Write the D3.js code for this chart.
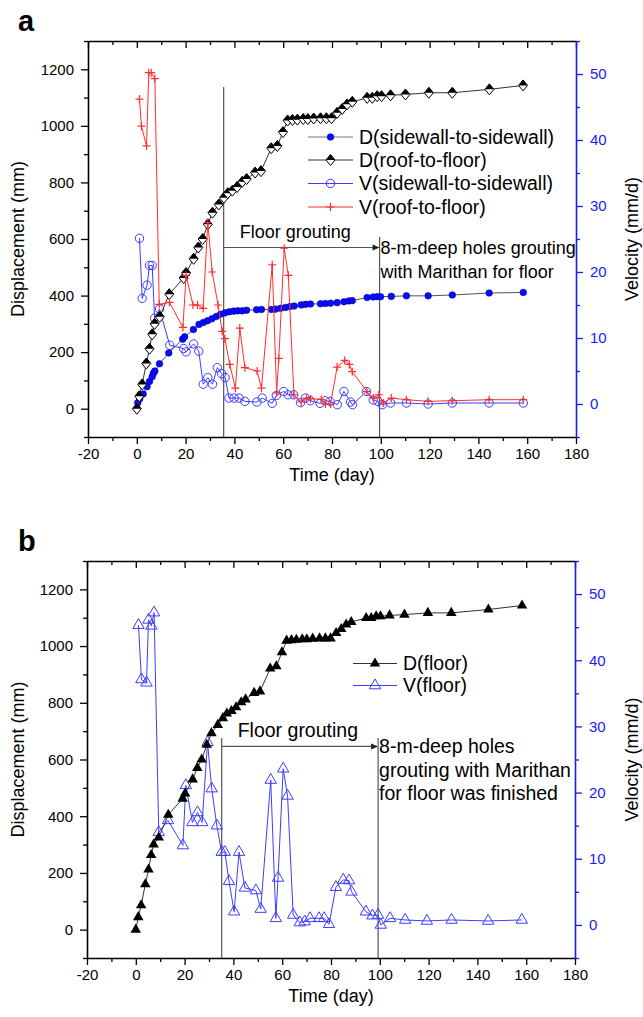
<!DOCTYPE html>
<html>
<head>
<meta charset="utf-8">
<script src="https://cdn.jsdelivr.net/npm/d3@7"></script>
<style>
  body { margin: 0; background: #fff; }
  svg text { font-family: "Liberation Sans", Arial, sans-serif; fill: #000; }
</style>
</head>
<body>
<div id="chart"></div>
<script>
// ---- data ----
// D(roof-to-floor) / D(floor), mm
const tDRoof = [0,1,2.2,3.9,5.2,6.3,7.3,9.4,13.3,19.2,20.2,23.3,25.2,27,29.1,31,33.6,35.7,37.3,39.2,41.1,43.2,45,48.5,50.9,55.1,57.6,59.9,61.8,63.8,65.8,68.2,70.1,72.5,75.3,77.7,79.8,82.1,84.2,86.2,88.3,94.4,96.5,98.5,100.3,104,110.1,119.7,129.3,144.5,158.3];
const dRoof = [0,44,86,160,212,263,300,325,405,462,480,530,570,600,652,693,722,746,762,771,784,802,812,835,840,921,929,978,1019,1021,1022,1024,1024,1026,1027,1027,1027,1046,1060,1076,1085,1099,1099,1105,1105,1108,1111,1117,1117,1129,1143];

// D(sidewall-to-sidewall), mm
const tDSide = [0.4,1.2,2.6,4.2,5.2,6.3,6.8,7.4,9.3,13.1,18.8,19.6,23.2,25.5,27.3,29,30.8,32.6,34.3,36.2,38,39.7,41.4,43.2,45,49.1,51.1,55.1,56.8,58.9,60.9,62.7,64.5,67.4,69.2,71.2,75.3,77.3,79.4,82.1,84.9,86.9,88.3,94.4,96.9,98.5,99.9,104.3,110.5,119.4,129.3,144.4,158.4];
const dSide = [21,35,52,78,96,113,125,133,159,197,246,254,280,298,305,311,318,326,334,339,343,345,346,346,348,350,351,351,352,355,358,361,363,367,369,370,371,372,373,375,378,381,382,393,395,396,396,397,399,399,402,409,411];

// V(sidewall-to-sidewall), mm/d
const tVSide = [1.1,2.2,4.2,5.2,6.3,7.3,9.3,13.5,19.2,20.2,23.3,25.4,27.2,29.1,31,33,34.8,36.2,37.8,39.9,41.9,44.3,49.2,51.4,55.5,57.2,60.2,62,64.3,67.1,69.1,71.1,75.1,77.2,79.2,82.2,84.9,87.6,88.4,94.1,96.9,98.8,100.6,104,110.5,119.4,129.3,144.4,158.4];
const vSide = [25.1,16,18,21,21,13,14.4,8.9,8.4,7.9,9.1,8,3,4,3,5.5,4.6,4,0.9,0.9,0.9,0.4,0.3,0.9,0.1,1.3,1.9,1.4,1.4,0.2,0.9,0.5,0.1,0.5,0.4,-0.1,1.9,0.3,-0.1,1.9,0.6,0.4,-0.1,0.15,0.15,0,0.15,0.15,0.15];

// V(roof-to-floor), mm/d
const tVRoof = [1.1,1.9,4,4.9,5.9,7.4,9.2,13.4,18.9,20.2,23,24.9,27.2,29.1,30.9,33.3,35,36.1,38.1,40.4,42.2,44.3,49.3,51.1,55.5,57.3,58.2,60.4,62.1,64.4,67.4,69.6,71.2,75.6,77.3,79.4,82.1,85.2,87.1,88.3,94.3,96.9,99.2,101,104.3,110.5,119.4,129.3,144.4,158.4];
const vRoof = [46.2,42.1,39.1,50.2,50.2,49.3,15.1,15.4,11.6,19.5,15,15,14.5,27.5,20,15,11,9.9,6,2.4,11.5,5.5,5,2.4,21.1,1.7,6.9,23.6,19.5,1.4,0.3,0.9,0.8,0.7,0,0,5.6,6.6,6,4.9,1.9,0.9,1.4,0.15,0.9,0.65,0.4,0.5,0.65,0.65];

// V(floor), mm/d  (panel b)
const tVFloor = [1.1,2.3,4.4,5.2,6.4,7.5,9.4,13.2,19.3,20.5,23.2,25.3,27.2,29.4,31.1,33.2,35.2,36.5,38.2,40.3,42.3,44.7,49.2,51.2,55.3,57.4,58.3,60.4,62.2,64.5,67.2,69.2,71.4,75.1,77.2,79.2,82,85,87.4,88.4,94.3,97,99.3,100.4,104.2,110.4,119.3,129.4,144.4,158.2];
const vFloor = [45.3,37.1,36.6,46.1,45.2,47.2,14,15.8,12,21.1,15.5,17,15.5,27.6,20.6,15,11,11,6.6,2,11,5.6,5.2,2.4,21.9,1,7.1,23.6,19.5,1.5,0.35,0.5,1,1,1,0.1,5.7,6.8,6.7,5,2,1.4,1.5,0,1,0.75,0.6,0.75,0.6,0.75];

// axis ticks
const xMajor = d3.range(-20, 181, 20);
const xMinor = d3.range(-10, 180, 20);
const yMajor = d3.range(0, 1201, 200);
const yMinor = d3.range(-100, 1301, 200);
const vMajor = d3.range(0, 51, 10);
const vMinor = d3.range(-5, 56, 10);

const legendA = ["D(sidewall-to-sidewall)", "D(roof-to-floor)", "V(sidewall-to-sidewall)", "V(roof-to-floor)"];
const legendB = ["D(floor)", "V(floor)"];

const BLUE = "#1a1aff";
const VBLUE = "#3d3dff";
const RED = "#ff2d2d";

const svg = d3.select("#chart").append("svg")
    .attr("width", 643)
    .attr("height", 1017);

const zip = (ts, vs) => ts.map((t, i) => ({ t: t, v: vs[i] }));
const plain = d => String(d);

function makePanel(box, letter) {
    const x = d3.scaleLinear().domain([-20, 180]).range([box.left, box.right]);
    const yL = d3.scaleLinear().domain([-100, 1300]).range([box.bottom, box.top]);
    const yR = d3.scaleLinear().domain([-5, 55]).range([box.bottom, box.top]);
    const g = svg.append("g");

    const style = (sel, color) => {
        sel.selectAll(".domain").attr("stroke", color).attr("stroke-width", 1.6);
        sel.selectAll(".tick line").attr("stroke", color).attr("stroke-width", 1.3);
        sel.selectAll(".tick text").style("font-size", "15px").style("fill", color)
            .style("font-family", "'Liberation Sans', Arial, sans-serif");
    };

    // bottom
    g.append("g").attr("transform", `translate(0,${box.bottom})`)
        .call(d3.axisBottom(x).tickValues(xMinor).tickSize(4).tickSizeOuter(0).tickFormat(""))
        .call(s => s.select(".domain").remove()).call(s => style(s, "#000"));
    g.append("g").attr("transform", `translate(0,${box.bottom})`)
        .call(d3.axisBottom(x).tickValues(xMajor).tickSize(7).tickSizeOuter(0).tickPadding(4).tickFormat(plain))
        .call(s => style(s, "#000"));
    // top (ticks inward)
    g.append("g").attr("transform", `translate(0,${box.top})`)
        .call(d3.axisTop(x).tickValues(xMinor).tickSize(-4).tickSizeOuter(0).tickFormat(""))
        .call(s => s.select(".domain").remove()).call(s => style(s, "#000"));
    g.append("g").attr("transform", `translate(0,${box.top})`)
        .call(d3.axisTop(x).tickValues(xMajor).tickSize(-7).tickSizeOuter(0).tickFormat(""))
        .call(s => style(s, "#000"));
    // left
    g.append("g").attr("transform", `translate(${box.left},0)`)
        .call(d3.axisLeft(yL).tickValues(yMinor).tickSize(4).tickSizeOuter(0).tickFormat(""))
        .call(s => s.select(".domain").remove()).call(s => style(s, "#000"));
    g.append("g").attr("transform", `translate(${box.left},0)`)
        .call(d3.axisLeft(yL).tickValues(yMajor).tickSize(7).tickSizeOuter(0).tickPadding(7).tickFormat(plain))
        .call(s => style(s, "#000"));
    // right (velocity, blue)
    g.append("g").attr("transform", `translate(${box.right},0)`)
        .call(d3.axisRight(yR).tickValues(vMinor).tickSize(4).tickSizeOuter(0).tickFormat(""))
        .call(s => s.select(".domain").remove()).call(s => style(s, BLUE));
    g.append("g").attr("transform", `translate(${box.right},0)`)
        .call(d3.axisRight(yR).tickValues(vMajor).tickSize(7).tickSizeOuter(0).tickPadding(7).tickFormat(plain))
        .call(s => style(s, BLUE));

    // axis titles
    const midY = (box.top + box.bottom) / 2;
    g.append("text").attr("transform", `translate(24,${midY}) rotate(-90)`)
        .attr("text-anchor", "middle").style("font-size", "18px").text("Displacement (mm)");
    g.append("text").attr("transform", `translate(638,${midY}) rotate(-90)`)
        .attr("text-anchor", "middle").style("font-size", "18px").text("Velocity (mm/d)");
    g.append("text").attr("x", (box.left + box.right) / 2).attr("y", box.bottom + 44)
        .attr("text-anchor", "middle").style("font-size", "18px").text("Time (day)");
    g.append("text").attr("x", 18).attr("y", box.top - 10)
        .style("font-size", "29px").style("font-weight", "bold").text(letter);

    return { x, yL, yR, g };
}

// marker helpers
function plus(sel, color) {
    sel.append("path").attr("d", "M-4,0H4M0,-4V4").attr("stroke", color).attr("stroke-width", 1.2).attr("fill", "none");
}
function halfDiamond(sel) {
    sel.append("path").attr("d", "M0,-5.5L4.5,0L0,5.5L-4.5,0Z").attr("fill", "#fff").attr("stroke", "#000").attr("stroke-width", 1);
    sel.append("path").attr("d", "M0,-5.5L4.5,0L-4.5,0Z").attr("fill", "#000");
}
function dot(sel) {
    sel.append("circle").attr("r", 3.3).attr("fill", "#0a0aff").attr("stroke", "#00009a").attr("stroke-width", 0.6);
}
function ring(sel) {
    sel.append("circle").attr("r", 4.2).attr("fill", "none").attr("stroke", VBLUE).attr("stroke-width", 1);
}
const triPath = d3.symbol().type(d3.symbolTriangle).size(48)();
const openTriPath = d3.symbol().type(d3.symbolTriangle).size(56)();
function triFilled(sel) {
    sel.append("path").attr("d", triPath).attr("fill", "#000");
}
function triOpen(sel) {
    sel.append("path").attr("d", openTriPath).attr("fill", "none").attr("stroke", VBLUE).attr("stroke-width", 1);
}

function series(p, data, yScale, lineColor, marker) {
    const line = d3.line().x(d => p.x(d.t)).y(d => yScale(d.v));
    p.g.append("path").attr("d", line(data)).attr("fill", "none")
        .attr("stroke", lineColor).attr("stroke-width", 1);
    p.g.selectAll(null).data(data).enter().append("g")
        .attr("transform", d => `translate(${p.x(d.t)},${yScale(d.v)})`)
        .each(function () { marker(d3.select(this)); });
}

function annotate(p, box, tStart, tEnd, topL, topR, arrowD, lines, fs) {
    const xs = p.x(tStart), xe = p.x(tEnd), ya = p.yL(arrowD);
    p.g.append("line").attr("x1", xs).attr("x2", xs).attr("y1", p.yL(topL)).attr("y2", box.bottom)
        .attr("stroke", "#555").attr("stroke-width", 1.2);
    p.g.append("line").attr("x1", xe).attr("x2", xe).attr("y1", p.yL(topR)).attr("y2", box.bottom)
        .attr("stroke", "#555").attr("stroke-width", 1.2);
    p.g.append("line").attr("x1", xs).attr("x2", xe - 5).attr("y1", ya).attr("y2", ya)
        .attr("stroke", "#555").attr("stroke-width", 1.2);
    p.g.append("path").attr("d", `M${xe},${ya}L${xe - 7},${ya - 3}L${xe - 7},${ya + 3}Z`).attr("fill", "#222");
    p.g.append("text").attr("x", xs + 16).attr("y", ya - 9).style("font-size", fs + "px").text("Floor grouting");
    lines.forEach((s, i) => {
        p.g.append("text").attr("x", xe + 1).attr("y", ya + 7 + i * 23.5).style("font-size", fs + "px").text(s);
    });
}

function legend(p, x1, x2, rows) {
    rows.forEach((r, i) => {
        const y = r.y;
        p.g.append("line").attr("x1", x1).attr("x2", x2).attr("y1", y).attr("y2", y)
            .attr("stroke", r.color).attr("stroke-width", 1);
        const m = p.g.append("g").attr("transform", `translate(${(x1 + x2) / 2},${y})`);
        r.marker(m);
        p.g.append("text").attr("x", x2 + 6).attr("y", y + 6.5).style("font-size", "19.5px").text(r.label);
    });
}

// ---- panel a ----
const boxA = { left: 88, right: 576, top: 41, bottom: 437 };
const pa = makePanel(boxA, "a");
annotate(pa, boxA, 35.6, 99.5, 1137, 607, 570,
    ["8-m-deep holes grouting", "with Marithan for floor"], 18);
series(pa, zip(tVSide, vSide), pa.yR, VBLUE, ring);
series(pa, zip(tDSide, dSide), pa.yL, "#555", dot);
series(pa, zip(tDRoof, dRoof), pa.yL, "#333", halfDiamond);
series(pa, zip(tVRoof, vRoof), pa.yR, RED, s => plus(s, RED));
legend(pa, 308, 353, [
    { y: 137, color: "#777", marker: dot, label: legendA[0] },
    { y: 160, color: "#333", marker: halfDiamond, label: legendA[1] },
    { y: 183.5, color: VBLUE, marker: ring, label: legendA[2] },
    { y: 207, color: RED, marker: s => plus(s, RED), label: legendA[3] }
]);

// ---- panel b ----
const boxB = { left: 87, right: 575, top: 561, bottom: 958 };
const pb = makePanel(boxB, "b");
annotate(pb, boxB, 35.2, 99.3, 676, 676, 646,
    ["8-m-deep holes", "grouting with Marithan", "for floor was finished"], 19.5);
series(pb, zip(tVFloor, vFloor), pb.yR, VBLUE, triOpen);
series(pb, zip(tDRoof, dRoof), pb.yL, "#333", triFilled);
legend(pb, 353, 397, [
    { y: 663.5, color: "#333", marker: triFilled, label: legendB[0] },
    { y: 685.5, color: VBLUE, marker: triOpen, label: legendB[1] }
]);
</script>
</body>
</html>
